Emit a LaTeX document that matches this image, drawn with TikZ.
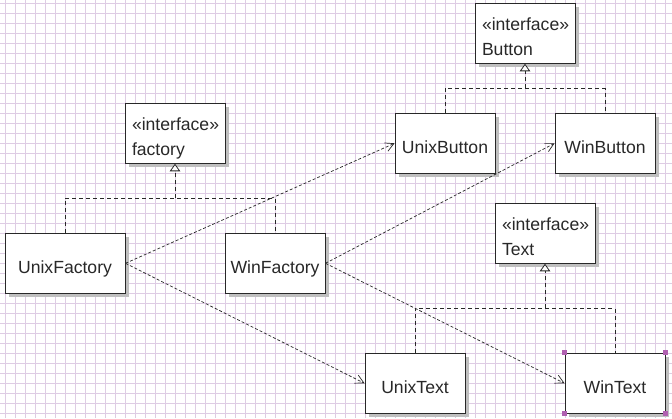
\documentclass[tikz,border=0pt]{standalone}
\usepackage{fontspec}
\setmainfont{Liberation Sans}
\usetikzlibrary{arrows.meta,calc,positioning,shadows}
\usepackage{xcolor}
\definecolor{gridlila}{RGB}{222,204,228}
\definecolor{boxline}{RGB}{40,40,40}
\definecolor{shadegray}{RGB}{192,192,192}
\definecolor{handlelila}{RGB}{176,96,176}
\newcommand{\boxw}{100pt}
\newcommand{\boxh}{60pt}
\newcommand{\ifc}[1]{\rule{0pt}{23pt}«interface»\\#1\rule[-4pt]{0pt}{4pt}}
\tikzset{
    gridsty/.style={draw=gridlila, line width=1pt},
    classsty/.style={draw=boxline, fill=white, rectangle, line width=0.9pt, minimum width=\boxw, minimum height=\boxh, text=boxline, font=\fontsize{17.6}{25}\selectfont, general shadow={fill=shadegray, shadow xshift=3.5pt, shadow yshift=-3.5pt}},
    namesty/.style={classsty, text height=19.6pt, text depth=0pt},
    ifacesty/.style={classsty, text width=86pt, align=left, inner ysep=0pt},
    linksty/.style={draw=boxline, dash pattern=on 4pt off 3pt, line width=0.8pt},
    realsty/.style={linksty, -{Triangle[open, length=7.5pt, width=10.5pt, fill=white]}},
    dependsty/.style={draw=boxline, dash pattern=on 3pt off 2pt, line width=0.7pt, -{Straight Barb[length=8.5pt, width=9pt]}},
    handlesty/.style={fill=handlelila, rectangle, minimum size=5pt, inner sep=0pt},
}

\begin{document}
\begin{tikzpicture}[x=1pt, y=-1pt]
  \useasboundingbox (0,0) rectangle (672,418);

  % grid
  \foreach \gx in {5,15,...,665} \draw[gridsty] (\gx,0) -- (\gx,418);
  \foreach \gy in {3.3,13.3,...,413.3} \draw[gridsty] (0,\gy) -- (672,\gy);

  % classes
  \node[ifacesty] (button) at (525,33.3) {\ifc{Button}};
  \node[namesty] (unixbtn) at (445,143.3) {UnixButton};
  \node[namesty] (winbtn) at (605,143.3) {WinButton};
  \node[ifacesty] (factory) at (175,133.3) {\ifc{factory}};
  \node[namesty, minimum width=120pt] (unixfac) at (65,263.3) {UnixFactory};
  \node[namesty] (winfac) at (275,263.3) {WinFactory};
  \node[ifacesty] (text) at (545,233.3) {\ifc{Text}};
  \node[namesty] (unixtext) at (415,383.3) {UnixText};
  \node[namesty] (wintext) at (615,383.3) {WinText};

  % realizations
  \coordinate (btnjoin) at ($(button.south)!0.5!(button.south |- unixbtn.north)$);
  \coordinate (facjoin) at ($(factory.south)!0.5!(factory.south |- unixfac.north)$);
  \coordinate (txtjoin) at ($(text.south)!0.5!(text.south |- unixtext.north)$);
  \draw[linksty] (unixbtn.north) |- (btnjoin) -| (winbtn.north);
  \draw[realsty] (btnjoin) -- (button.south);
  \draw[linksty] (unixfac.north) |- (facjoin) -| (winfac.north);
  \draw[realsty] (facjoin) -- (factory.south);
  \draw[linksty] (unixtext.north) |- (txtjoin) -| (wintext.north);
  \draw[realsty] (txtjoin) -- (text.south);

  % dependencies
  \draw[dependsty] (unixfac.east) -- (unixbtn.west);
  \draw[dependsty] (unixfac.east) -- (unixtext.west);
  \draw[dependsty] (winfac.east) -- (winbtn.west);
  \draw[dependsty] (winfac.east) -- (wintext.west);

  % selection handles
  \foreach \corner in {north west, north east, south west, south east}
    \node[handlesty] at (wintext.\corner) {};
\end{tikzpicture}
\end{document}
